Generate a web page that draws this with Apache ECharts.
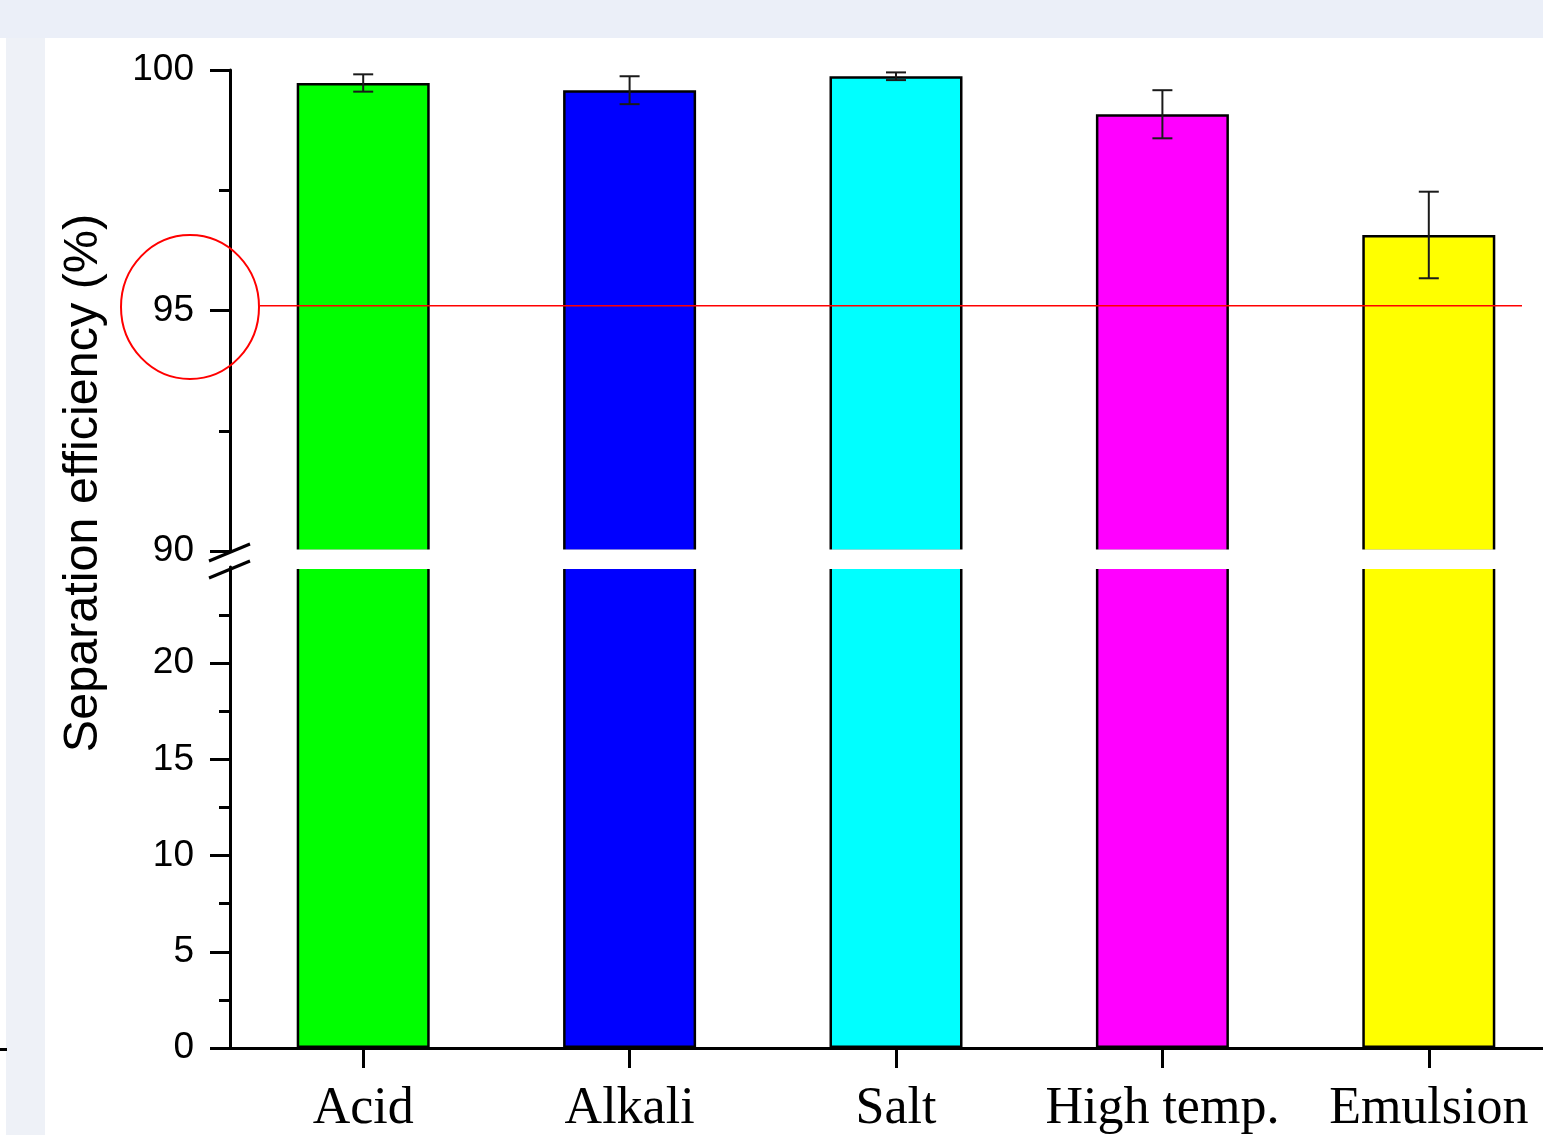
<!DOCTYPE html>
<html>
<head>
<meta charset="utf-8">
<title>Separation efficiency</title>
<script src="https://cdn.jsdelivr.net/npm/echarts@6/dist/echarts.min.js"></script>
<style>
  html, body { margin: 0; padding: 0; width: 1543px; height: 1135px; overflow: hidden; background: #ebeff8; }
  .panel { position: absolute; }
  #chart { position: absolute; left: 0; top: 0; width: 1580px; height: 1135px; }
</style>
</head>
<body>
<div class="panel" style="left:0;top:38px;width:6px;height:1097px;background:#ffffff;"></div>
<div class="panel" style="left:6px;top:38px;width:39px;height:1097px;background:#eef1f7;"></div>
<div class="panel" style="left:45px;top:38px;width:1498px;height:1097px;background:#ffffff;"></div>
<div class="panel" style="left:0;top:1048px;width:7px;height:3px;background:#000000;"></div>
<div id="chart"></div>
<script>
// Treatment conditions and measured separation efficiency (%)
const categories = ['Acid', 'Alkali', 'Salt', 'High temp.', 'Emulsion'];
const efficiency = [99.73, 99.58, 99.87, 99.08, 96.57];
const errorBars = [0.18, 0.29, 0.08, 0.50, 0.90];
const barColors = ['#00ff00', '#0000ff', '#00ffff', '#ff00ff', '#ffff00'];

// Broken y axis: upper segment 90-100, lower segment 0-25
const upperTicks = [90, 95, 100];
const lowerTicks = [0, 5, 10, 15, 20];
const thresholdValue = 95.1;

const sansFont = '"Liberation Sans", Arial, sans-serif';
const serifFont = '"Liberation Serif", "Times New Roman", serif';

const chart = echarts.init(document.getElementById('chart'), null, { renderer: 'canvas' });

const barData = efficiency.map((v, i) => ({
  value: v,
  itemStyle: { color: barColors[i] }
}));
const errData = efficiency.map((v, i) => [i, v - errorBars[i], v + errorBars[i]]);

const commonYAxis = {
  type: 'value',
  interval: 5,
  axisLine: { show: true, lineStyle: { color: '#000', width: 3 } },
  axisTick: { show: true, length: 20, lineStyle: { color: '#000', width: 3 } },
  minorTick: { show: true, splitNumber: 2, length: 11, lineStyle: { color: '#000', width: 3 } },
  axisLabel: { color: '#000', fontSize: 37, fontFamily: sansFont, margin: 36 },
  splitLine: { show: false },
  minorSplitLine: { show: false }
};

const barStyle = { borderColor: '#000', borderWidth: 2.5 };

const option = {
  backgroundColor: 'transparent',
  animation: false,
  grid: [
    { left: 230, top: 70, width: 1332, height: 481 },
    { left: 230, top: 567, width: 1332, height: 483 }
  ],
  xAxis: [
    { type: 'category', gridIndex: 0, data: categories, show: false },
    {
      type: 'category', gridIndex: 1, data: categories,
      axisLine: { show: true, lineStyle: { color: '#000', width: 3 } },
      axisTick: { show: true, alignWithLabel: true, length: 20, lineStyle: { color: '#000', width: 3 } },
      axisLabel: { color: '#000', fontSize: 52, fontFamily: serifFont, margin: 35, interval: 0 }
    }
  ],
  yAxis: [
    Object.assign({}, commonYAxis, {
      gridIndex: 0, min: upperTicks[0], max: upperTicks[upperTicks.length - 1]
    }),
    Object.assign({}, commonYAxis, {
      gridIndex: 1, min: 0, max: 25,
      axisTick: Object.assign({}, commonYAxis.axisTick, { customValues: lowerTicks }),
      axisLabel: Object.assign({}, commonYAxis.axisLabel, { customValues: lowerTicks })
    })
  ],
  series: [
    {
      type: 'bar', xAxisIndex: 0, yAxisIndex: 0, data: barData,
      barWidth: 133, itemStyle: barStyle, z: 2
    },
    {
      type: 'bar', xAxisIndex: 1, yAxisIndex: 1, data: barData,
      barWidth: 133, itemStyle: barStyle, z: 2
    },
    {
      type: 'custom', xAxisIndex: 0, yAxisIndex: 0, data: errData,
      encode: { x: 0, y: [1, 2] },
      z: 5,
      renderItem: function (params, api) {
        const lo = api.coord([api.value(0), api.value(1)]);
        const hi = api.coord([api.value(0), api.value(2)]);
        const cap = 10;
        const style = { stroke: '#1a1a1a', lineWidth: 2 };
        return {
          type: 'group',
          children: [
            { type: 'line', shape: { x1: lo[0], y1: lo[1], x2: hi[0], y2: hi[1] }, style: style },
            { type: 'line', shape: { x1: lo[0] - cap, y1: lo[1], x2: lo[0] + cap, y2: lo[1] }, style: style },
            { type: 'line', shape: { x1: hi[0] - cap, y1: hi[1], x2: hi[0] + cap, y2: hi[1] }, style: style }
          ]
        };
      }
    }
  ]
};

chart.setOption(option);

// Axis break gap, break marks, axis title and the 95 % reference annotation
const refY = chart.convertToPixel({ yAxisIndex: 0 }, thresholdValue);
chart.setOption({
  graphic: [
    {
      type: 'rect', z: 50, silent: true,
      shape: { x: 238, y: 549.5, width: 1340, height: 19.5 },
      style: { fill: '#ffffff' }
    },
    {
      type: 'line', z: 60, silent: true,
      shape: { x1: 209, y1: 561, x2: 250, y2: 544 },
      style: { stroke: '#000', lineWidth: 3 }
    },
    {
      type: 'line', z: 60, silent: true,
      shape: { x1: 209, y1: 578, x2: 250, y2: 561 },
      style: { stroke: '#000', lineWidth: 3 }
    },
    {
      type: 'text', z: 60, silent: true,
      x: 84, y: 483, rotation: Math.PI / 2,
      style: {
        text: 'Separation efficiency (%)',
        fontSize: 48.5, fontFamily: sansFont, fill: '#000',
        align: 'center', verticalAlign: 'middle'
      }
    },
    {
      type: 'line', z: 70, silent: true,
      shape: { x1: 260, y1: refY, x2: 1522, y2: refY },
      style: { stroke: '#ff0000', lineWidth: 1.5 }
    },
    {
      type: 'ellipse', z: 70, silent: true,
      shape: { cx: 190, cy: 307, rx: 69, ry: 72 },
      style: { fill: 'none', stroke: '#ff0000', lineWidth: 2 }
    }
  ]
});
</script>
</body>
</html>
